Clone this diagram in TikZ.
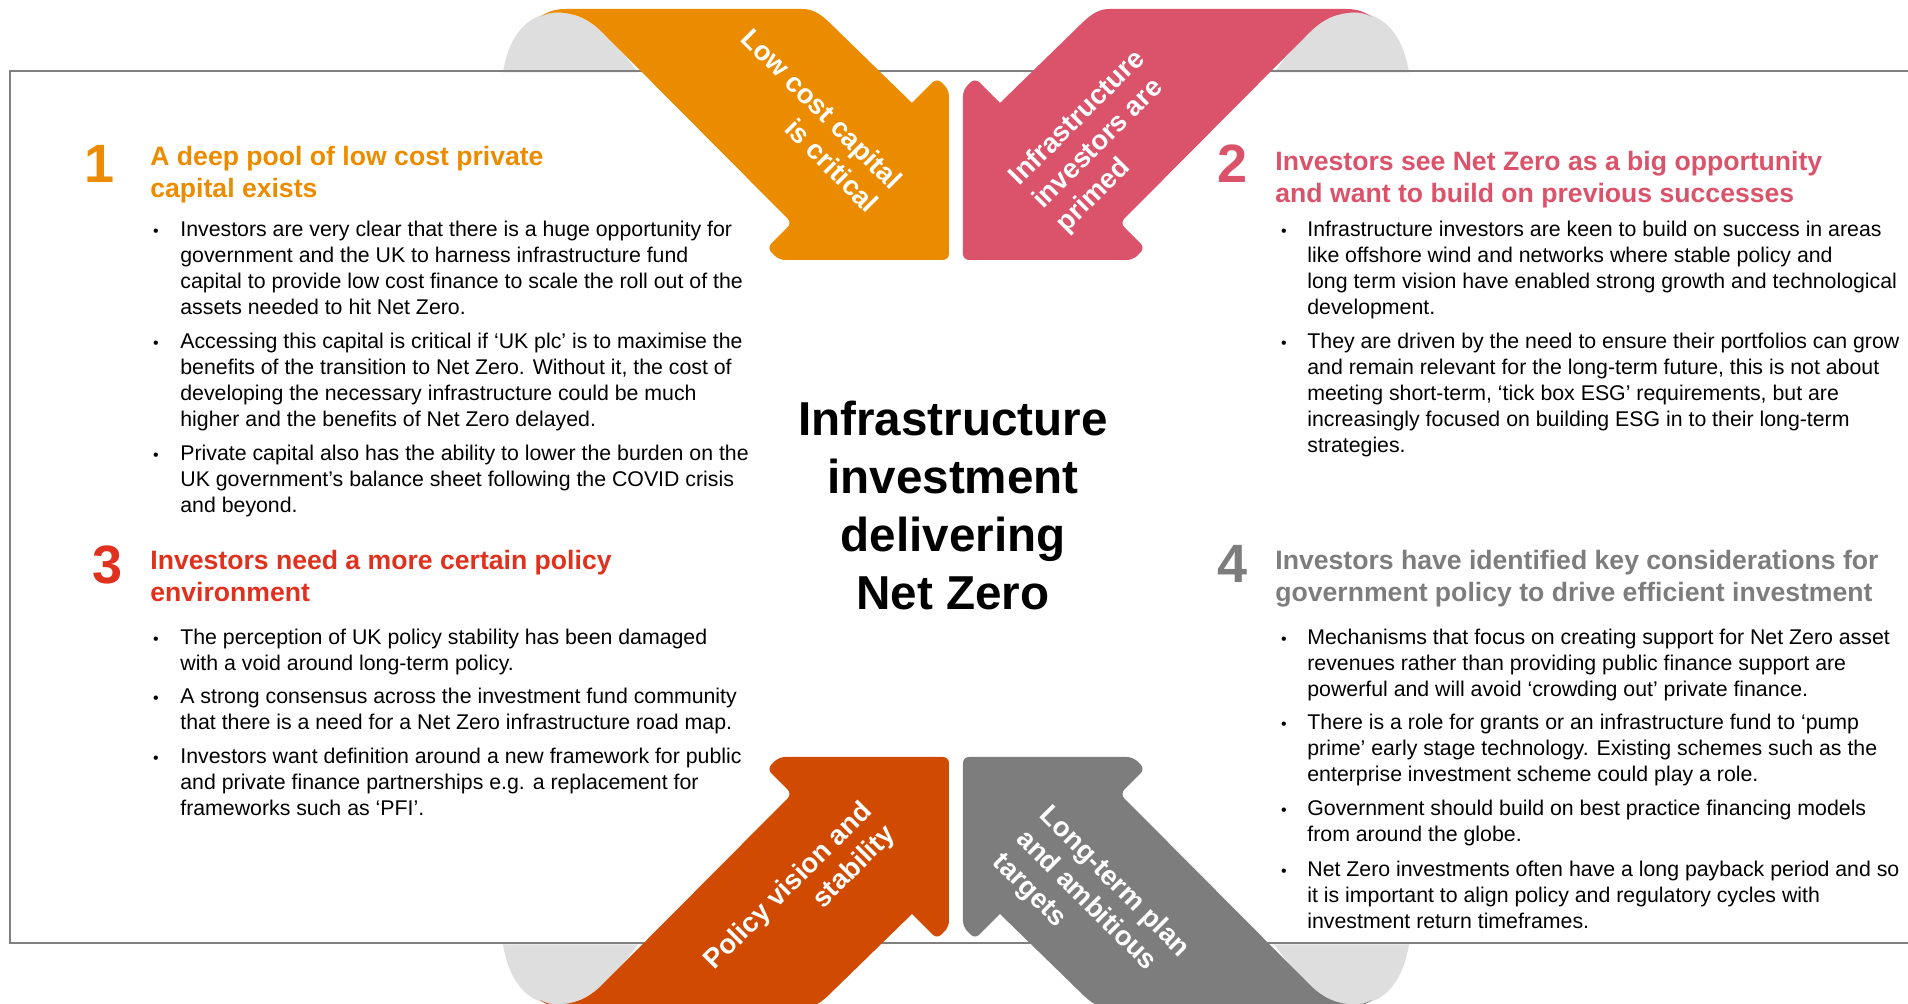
\documentclass[tikz,border=0pt]{standalone}
\usepackage{fontspec}
\setmainfont{Liberation Sans}
\usetikzlibrary{positioning}

\definecolor{naranja}{HTML}{EB8C00}
\definecolor{rosa}{HTML}{DB536A}
\definecolor{teja}{HTML}{D04A02}
\definecolor{gris}{HTML}{7D7D7D}
\definecolor{rojo}{HTML}{E0301E}
\definecolor{fondo}{HTML}{DEDEDE}
\definecolor{marco}{HTML}{808080}

% joroba gris y cinta con flecha (orientacion arriba-izquierda)
\newcommand{\joroba}{\fill[fondo] (-453,436) .. controls (-446,478) and (-425,496) .. (-398,496)
	.. controls (-372,496) and (-350,478) .. (-318,436) -- cycle;}
\newcommand{\cinta}[1]{\fill[#1] (-416,491.5) .. controls (-406,498.5) and (-398,499.5) .. (-389,499.5)
	-- (-153,499.5) .. controls (-140,499.5) and (-131,490.5) .. (-121,480.5)
	-- (-44,405.5) [rounded corners=3pt] -- (-19,430.5) -- (-7,418.5) -- (-7,248.5)
	-- (-177,248.5) -- (-189,260.5) -- (-164,285.5) [sharp corners]
	-- (-353,475.5) .. controls (-368,490.5) and (-382,495.5) .. (-398,496)
	.. controls (-405,496) and (-411,494.5) .. (-416,491.5) -- cycle;}

\begin{document}
\begin{tikzpicture}[x=0.5pt, y=0.5pt,
		cifra/.style={font=\fontsize{27}{27}\selectfont\bfseries, anchor=base, inner sep=0pt},
		encabezado/.style={font=\fontsize{13.3}{15.8}\selectfont\bfseries, align=left, anchor=base west, inner sep=0pt},
		parrafo/.style={font=\fontsize{10.65}{12.9}\selectfont, align=left, anchor=base west, inner sep=0pt},
		vineta/.style={font=\fontsize{8}{8}\selectfont, anchor=base, inner sep=0pt},
		titulo/.style={font=\fontsize{23.8}{29}\selectfont\bfseries, align=center, inner sep=0pt},
		rotulo/.style={text=white, font=\fontsize{13.7}{16.5}\selectfont\bfseries, inner sep=0pt}]
	\useasboundingbox (-956,-495.5) rectangle (952,508.5);
	
	% jorobas
	\foreach \sx/\sy in {1/1, -1/1, 1/-1, -1/-1}{
		\begin{scope}[xscale=\sx, yscale=\sy]
			\joroba
		\end{scope}
	}
	
	% marco
	\draw[marco, line width=1pt] (960,437.5) -- (-946,437.5) -- (-946,-435) -- (960,-435);
	
	% flechas
	\foreach \sx/\sy/\col in {1/1/naranja, -1/1/rosa, 1/-1/teja, -1/-1/gris}{
		\begin{scope}[xscale=\sx, yscale=\sy]
			\cinta{\col}
		\end{scope}
	}
	
	% rotulos de las flechas
	\node[rotulo, rotate=-45, align=right, anchor=east] (r1) at (-70,312.5) {Low cost capital\\is critical};
	\node[rotulo, rotate=45, align=left, anchor=west] (r2) at (82,303.5) {Infrastructure\\investors are\\primed};
	\node[rotulo, rotate=45, align=right, anchor=east] (r3) at (-76,-310.5) {Policy vision and\\stability};
	\node[rotulo, rotate=-45, align=left, anchor=west] (r4) at (64,-326.5) {Long-term plan\\and ambitious\\targets};
	
	% titulo central
	\node[titulo] (centro) at (-3,2.9) {Infrastructure\\investment\\delivering\\Net Zero};
	
	% bloque 1 (el ancla base cae en la ultima linea)
	\node[cifra, text=naranja] (n1) at (-856,325.5) {1};
	\node[encabezado, text=naranja] (h1) at (-806,310.9) {A deep pool of low cost private\\capital exists};
	\node[vineta] (v11) at (-800,271.5) {•};
	\node[parrafo] (p11) at (-776,194.1) {Investors are very clear that there is a huge opportunity for\\government and the UK to harness infrastructure fund\\capital to provide low cost finance to scale the roll out of the\\assets needed to hit Net Zero.};
	\node[vineta] (v12) at (-800,159.5) {•};
	\node[parrafo] (p12) at (-776,82.1) {Accessing this capital is critical if ‘UK plc’ is to maximise the\\benefits of the transition to Net Zero. Without it, the cost of\\developing the necessary infrastructure could be much\\higher and the benefits of Net Zero delayed.};
	\node[vineta] (v13) at (-800,47.5) {•};
	\node[parrafo] (p13) at (-776,-4.1) {Private capital also has the ability to lower the burden on the\\UK government’s balance sheet following the COVID crisis\\and beyond.};
	
	% bloque 2
	\node[cifra, text=rosa] (n2) at (277,326) {2};
	\node[encabezado, text=rosa] (h2) at (319,305.9) {Investors see Net Zero as a big opportunity\\and want to build on previous successes};
	\node[vineta] (v21) at (328,271.5) {•};
	\node[parrafo] (p21) at (351,194.1) {Infrastructure investors are keen to build on success in areas\\like offshore wind and networks where stable policy and\\long term vision have enabled strong growth and technological\\development.};
	\node[vineta] (v22) at (328,159.5) {•};
	\node[parrafo] (p22) at (351,56.3) {They are driven by the need to ensure their portfolios can grow\\and remain relevant for the long-term future, this is not about\\meeting short-term, ‘tick box ESG’ requirements, but are\\increasingly focused on building ESG in to their long-term\\strategies.};
	
	% bloque 3
	\node[cifra, text=rojo] (n3) at (-848,-75.5) {3};
	\node[encabezado, text=rojo] (h3) at (-806,-93.1) {Investors need a more certain policy\\environment};
	\node[vineta] (v31) at (-800,-136) {•};
	\node[parrafo] (p31) at (-776,-161.8) {The perception of UK policy stability has been damaged\\with a void around long-term policy.};
	\node[vineta] (v32) at (-800,-195.5) {•};
	\node[parrafo] (p32) at (-776,-221.3) {A strong consensus across the investment fund community\\that there is a need for a Net Zero infrastructure road map.};
	\node[vineta] (v33) at (-800,-255.5) {•};
	\node[parrafo] (p33) at (-776,-307.1) {Investors want definition around a new framework for public\\and private finance partnerships e.g. a replacement for\\frameworks such as ‘PFI’.};
	
	% bloque 4
	\node[cifra, text=gris] (n4) at (277,-74.5) {4};
	\node[encabezado, text=gris] (h4) at (319,-93.1) {Investors have identified key considerations for\\government policy to drive efficient investment};
	\node[vineta] (v41) at (328,-136) {•};
	\node[parrafo] (p41) at (351,-187.6) {Mechanisms that focus on creating support for Net Zero asset\\revenues rather than providing public finance support are\\powerful and will avoid ‘crowding out’ private finance.};
	\node[vineta] (v42) at (328,-221.2) {•};
	\node[parrafo] (p42) at (351,-272.8) {There is a role for grants or an infrastructure fund to ‘pump\\prime’ early stage technology. Existing schemes such as the\\enterprise investment scheme could play a role.};
	\node[vineta] (v43) at (328,-307.5) {•};
	\node[parrafo] (p43) at (351,-333.3) {Government should build on best practice financing models\\from around the globe.};
	\node[vineta] (v44) at (328,-368.5) {•};
	\node[parrafo] (p44) at (351,-420.1) {Net Zero investments often have a long payback period and so\\it is important to align policy and regulatory cycles with\\investment return timeframes.};
\end{tikzpicture}
\end{document}
